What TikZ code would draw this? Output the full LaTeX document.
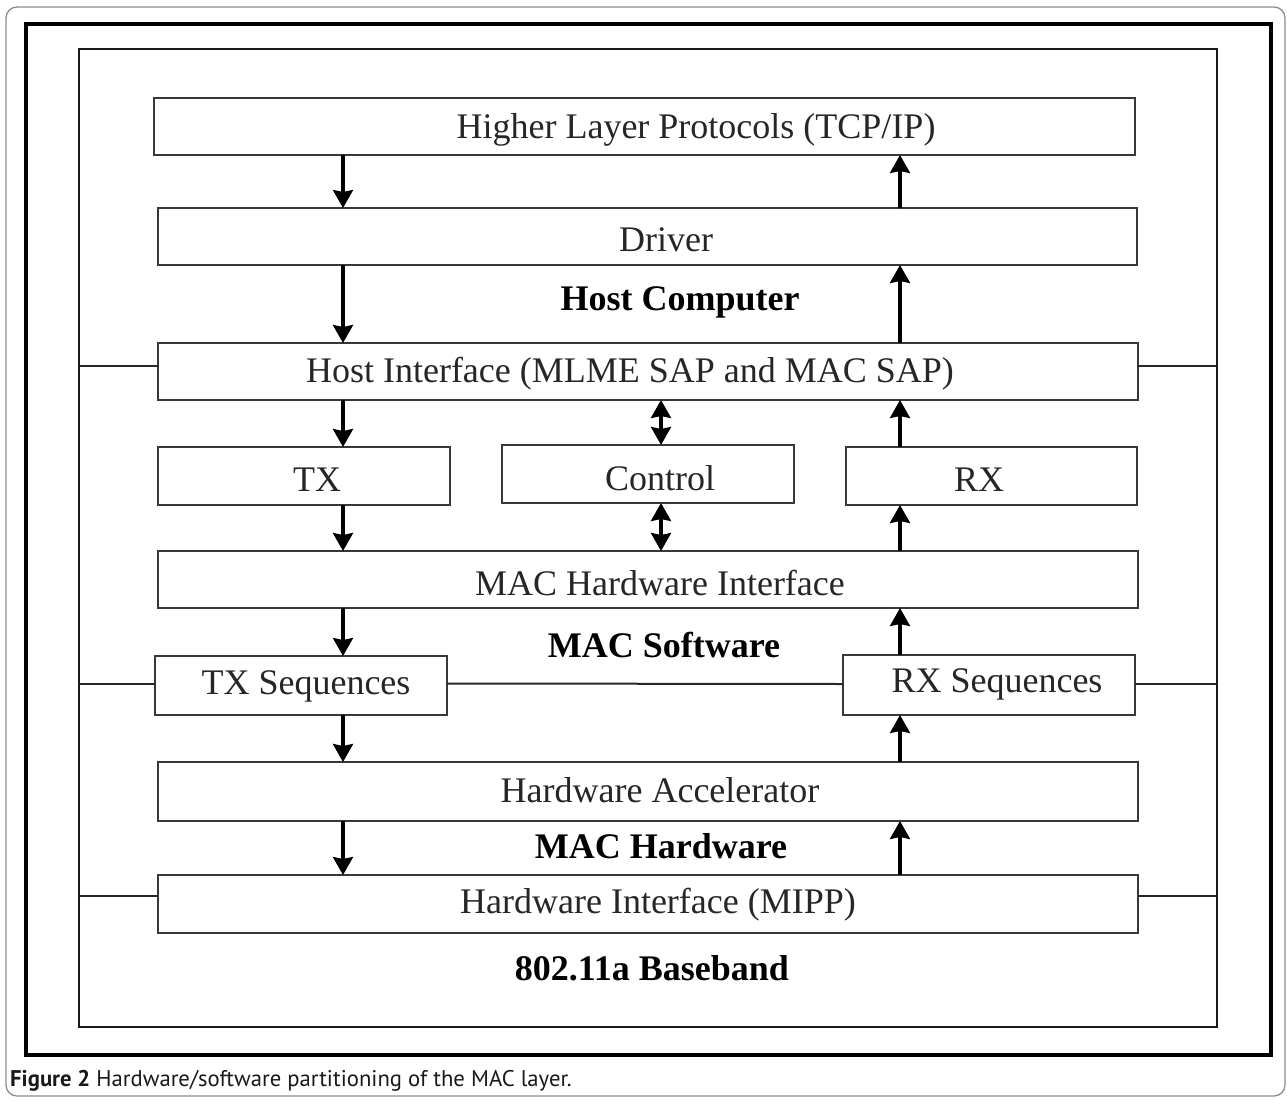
\documentclass[tikz,border=0pt]{standalone}
\usepackage{fontspec}
\setmainfont{Liberation Serif}
\newfontfamily\capfont{PT Sans}
\usetikzlibrary{arrows.meta,fit}

\begin{document}
\begin{tikzpicture}[x=1pt,y=-1pt,
  blk/.style={draw=black!78, line width=2.2pt, inner sep=0pt, outer sep=0pt},
  lbl/.style={font=\fontsize{36}{40}\selectfont, text=black!85, inner sep=0pt},
  ttl/.style={font=\fontsize{36}{40}\selectfont\bfseries, text=black, inner sep=0pt},
  link/.style={draw=black!85, line width=2pt},
  tip/.style={Triangle[width=20pt,length=18pt,inset=1.5pt]},
  arr/.style={draw=black, line width=3.2pt, -{Stealth[width=20pt,length=18pt,inset=2pt]}},
  biarr/.style={draw=black, line width=3.2pt, {Stealth[width=20pt,length=18pt,inset=2pt]}-{Stealth[width=20pt,length=18pt,inset=2pt]}}
]
\useasboundingbox (0,0) rectangle (1287,1100);

% page frame and figure frame
\draw[draw=black!45, line width=1.3pt, rounded corners=11pt] (6,7) rectangle (1285,1096);
\draw[draw=black, line width=3.4pt] (26,24) rectangle (1271,1055);
\node[blk, draw=black!90, line width=2.2pt, fit={(79,49) (1217,1027)}] (frame) {};

% columns used by the connectors
\coordinate (L) at (343,0);
\coordinate (M) at (661,0);
\coordinate (R) at (900,0);

% blocks
\node[blk, fit={(154,98) (1135,155)}] (hlp) {};
\node[blk, fit={(158,208) (1137,265)}] (drv) {};
\node[blk, fit={(158,343) (1138,400)}] (hif) {};
\node[blk, fit={(158,447) (450,505)}] (tx) {};
\node[blk, fit={(502,445) (794,503)}] (ctl) {};
\node[blk, fit={(846,447) (1137,505)}] (rx) {};
\node[blk, fit={(158,551) (1138,608)}] (mhi) {};
\node[blk, fit={(155,656) (447,715)}] (txs) {};
\node[blk, fit={(843,655) (1135,715)}] (rxs) {};
\node[blk, fit={(158,762) (1138,821)}] (hwa) {};
\node[blk, fit={(158,875) (1138,933)}] (mipp) {};

% block texts
\node[lbl] (t-hlp) at (696,130) {Higher Layer Protocols (TCP/IP)};
\node[lbl] (t-drv) at (666,240) {Driver};
\node[lbl] (t-hif) at (630,374) {Host Interface (MLME SAP and MAC SAP)};
\node[lbl] (t-tx) at (317,480) {TX};
\node[lbl] (t-ctl) at (660,478) {Control};
\node[lbl] (t-rx) at (979,480) {RX};
\node[lbl] (t-mhi) at (660,583) {MAC Hardware Interface};
\node[lbl] (t-txs) at (306,686) {TX Sequences};
\node[lbl] (t-rxs) at (997,684) {RX Sequences};
\node[lbl] (t-hwa) at (660,790) {Hardware Accelerator};
\node[lbl] (t-mipp) at (658,905) {Hardware Interface (MIPP)};

% partition titles
\node[ttl] (host) at (680,302) {Host Computer};
\node[ttl] (msw) at (664,645) {MAC Software};
\node[ttl] (mhw) at (661,846) {MAC Hardware};
\node[ttl] (bb) at (652,968) {802.11a Baseband};

% partition boundaries
\draw[link] ([yshift=6pt]hif.west -| frame.west) -- ([yshift=6pt]hif.west);
\draw[link] ([yshift=6pt]hif.east) -- ([yshift=6pt]hif.east -| frame.east);
\draw[link] ([yshift=2pt]txs.west -| frame.west) -- ([yshift=2pt]txs.west);
\draw[link] ([yshift=2pt]txs.east) -- ([yshift=1pt]rxs.west);
\draw[link] ([yshift=1pt]rxs.east) -- ([yshift=1pt]rxs.east -| frame.east);
\draw[link] ([yshift=8pt]mipp.west -| frame.west) -- ([yshift=8pt]mipp.west);
\draw[link] ([yshift=8pt]mipp.east) -- ([yshift=8pt]mipp.east -| frame.east);

% transmit path (down)
\draw[arr] (hlp.south -| L) -- (drv.north -| L);
\draw[arr] (drv.south -| L) -- (hif.north -| L);
\draw[arr] (hif.south -| L) -- (tx.north -| L);
\draw[arr] (tx.south -| L) -- (mhi.north -| L);
\draw[arr] (mhi.south -| L) -- (txs.north -| L);
\draw[arr] (txs.south -| L) -- (hwa.north -| L);
\draw[arr] (hwa.south -| L) -- (mipp.north -| L);

% receive path (up)
\draw[arr] (drv.north -| R) -- (hlp.south -| R);
\draw[arr] (hif.north -| R) -- (drv.south -| R);
\draw[arr] (rx.north -| R) -- (hif.south -| R);
\draw[arr] (mhi.north -| R) -- (rx.south -| R);
\draw[arr] (rxs.north -| R) -- (mhi.south -| R);
\draw[arr] (hwa.north -| R) -- (rxs.south -| R);
\draw[arr] (mipp.north -| R) -- (hwa.south -| R);

% control path (both ways)
\draw[biarr] (hif.south -| M) -- (ctl.north -| M);
\draw[biarr] (ctl.south -| M) -- (mhi.north -| M);

% caption
\node[anchor=base west, inner sep=0pt, text=black!90,
      font=\capfont\fontsize{22.7}{26}\selectfont] (cap) at (10,1086)
  {\textbf{Figure 2} Hardware/software partitioning of the MAC layer.};
\end{tikzpicture}
\end{document}
